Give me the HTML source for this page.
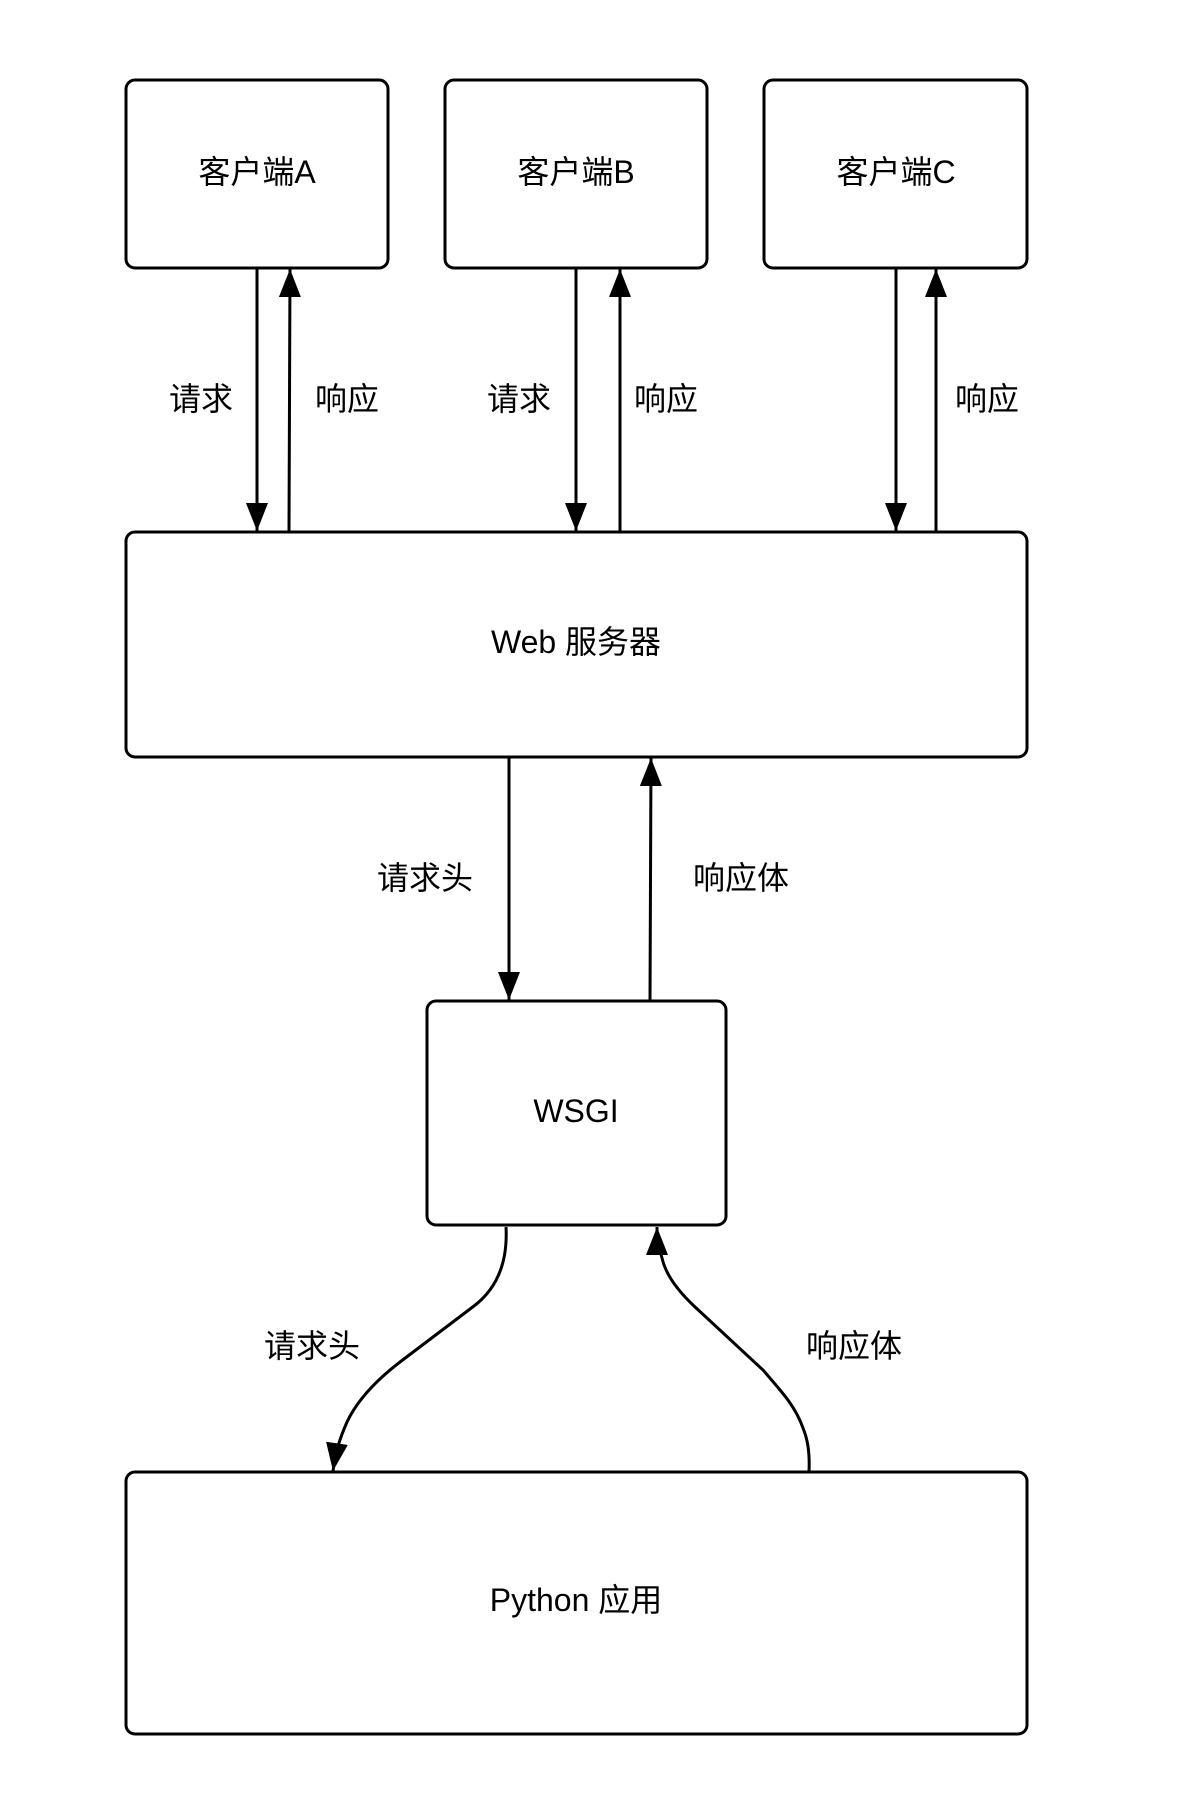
<!DOCTYPE html>
<html><head><meta charset="utf-8"><style>
html,body{margin:0;padding:0;background:#fff;}
svg text{font-family:"Liberation Sans","Noto Sans CJK SC",sans-serif;font-size:32px;fill:#000;text-anchor:middle;dominant-baseline:central;}
</style></head><body>
<svg width="1184" height="1809" viewBox="0 0 1184 1809" xmlns="http://www.w3.org/2000/svg">
<defs>
<marker id="ah2" viewBox="0 0 28 22" refX="28" refY="11" markerWidth="28" markerHeight="22" markerUnits="userSpaceOnUse" orient="auto">
<path d="M0,0 L28,11 L0,22 z" fill="#000"/>
</marker>
</defs>
<g fill="#fff" stroke="#000" stroke-width="3">
<rect x="126" y="80" width="262" height="188" rx="9"/>
<rect x="445" y="80" width="262" height="188" rx="9"/>
<rect x="764" y="80" width="263" height="188" rx="9"/>
<rect x="126" y="532" width="901" height="225" rx="9"/>
<rect x="427" y="1001" width="299" height="224" rx="9"/>
<rect x="126" y="1472" width="901" height="262" rx="9"/>
</g>
<g stroke="#000" stroke-width="3" fill="none">
<line x1="257" y1="268" x2="257" y2="531" marker-end="url(#ah2)"/>
<line x1="289" y1="531" x2="290" y2="269" marker-end="url(#ah2)"/>
<line x1="576" y1="268" x2="576" y2="531" marker-end="url(#ah2)"/>
<line x1="620" y1="531" x2="620" y2="269" marker-end="url(#ah2)"/>
<line x1="896" y1="268" x2="896" y2="531" marker-end="url(#ah2)"/>
<line x1="936" y1="531" x2="936" y2="269" marker-end="url(#ah2)"/>
<line x1="509" y1="757" x2="509" y2="1000" marker-end="url(#ah2)"/>
<line x1="650" y1="1001" x2="651" y2="758" marker-end="url(#ah2)"/>
<path d="M506,1227 C508,1265 495,1290 474,1306 L400,1362 C370,1385 355,1405 347,1422 C340,1438 336,1450 333,1471" marker-end="url(#ah2)"/>
<path d="M809,1472 C810,1450 807,1438 803,1428 C795,1405 780,1390 763,1370 L694,1306 C675,1288 665,1272 662,1258 C659,1248 657,1240 657,1227" marker-end="url(#ah2)"/>
</g>
<text x="257" y="172">客户端A</text>
<text x="576" y="172">客户端B</text>
<text x="896" y="172">客户端C</text>
<text x="576" y="642">Web 服务器</text>
<text x="576" y="1111">WSGI</text>
<text x="576" y="1600">Python 应用</text>
<text x="201" y="399">请求</text>
<text x="347" y="399">响应</text>
<text x="519" y="399">请求</text>
<text x="666" y="399">响应</text>
<text x="987" y="399">响应</text>
<text x="425" y="878">请求头</text>
<text x="741" y="878">响应体</text>
<text x="312" y="1346">请求头</text>
<text x="854" y="1346">响应体</text>
</svg>
</body></html>
